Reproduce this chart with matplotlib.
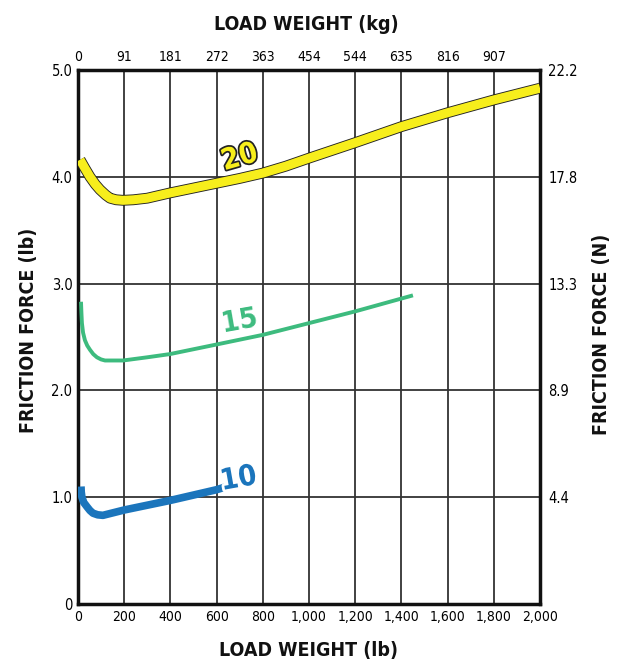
import numpy as np
import matplotlib.pyplot as plt
import matplotlib.patheffects as pe

# load weight (lb) and friction force (lb)
lb_20 = [9, 30, 52, 75, 95, 120, 139, 165, 195, 240, 300, 400, 500, 600, 700, 800, 900, 1000, 1200, 1400, 1600, 1800, 2000]
f_20 = [4.16, 4.08, 4.00, 3.93, 3.88, 3.83, 3.80, 3.785, 3.78, 3.785, 3.80, 3.85, 3.895, 3.94, 3.985, 4.035, 4.10, 4.175, 4.32, 4.47, 4.60, 4.72, 4.83]

lb_15 = [13, 15, 17, 22, 30, 40, 52, 66, 82, 100, 117, 150, 195, 300, 398, 600, 800, 1000, 1200, 1400, 1450]
f_15 = [2.83, 2.72, 2.63, 2.54, 2.47, 2.42, 2.38, 2.34, 2.31, 2.29, 2.28, 2.28, 2.28, 2.31, 2.34, 2.43, 2.52, 2.63, 2.74, 2.86, 2.89]

lb_10 = [13, 14, 17, 25, 39, 52, 65, 85, 108, 200, 400, 600, 645]
f_10 = [1.10, 1.05, 1.00, 0.95, 0.91, 0.875, 0.85, 0.835, 0.83, 0.88, 0.97, 1.07, 1.10]

x_ticks = [0, 200, 400, 600, 800, 1000, 1200, 1400, 1600, 1800, 2000]
x_labels = ["0", "200", "400", "600", "800", "1,000", "1,200", "1,400", "1,600", "1,800", "2,000"]
kg_ticks = [0, 200, 400, 600, 800, 1000, 1200, 1400, 1600, 1800]
kg_labels = ["0", "91", "181", "272", "363", "454", "544", "635", "816", "907"]
y_ticks = [0, 1, 2, 3, 4, 5]
y_labels = ["0", "1.0", "2.0", "3.0", "4.0", "5.0"]
n_ticks = [1, 2, 3, 4, 5]
n_labels = ["4.4", "8.9", "13.3", "17.8", "22.2"]

plt.rcParams["font.family"] = ["DejaVu Sans"]
plt.rcParams["font.stretch"] = "condensed"

fig = plt.figure(figsize=(6.17, 6.67), dpi=100)
ax = fig.add_axes([0.1264, 0.0945, 0.7488, 0.8005])
ax.set_xlim(0, 2000)
ax.set_ylim(0, 5)

ax.set_xticks(x_ticks)
ax.set_xticklabels(x_labels, fontsize=10)
ax.set_yticks(y_ticks)
ax.set_yticklabels(y_labels, fontsize=10.5)
ax.tick_params(length=0, pad=4)
ax.grid(True, color="#333333", lw=1.3)
ax.set_axisbelow(True)
for s in ax.spines.values():
    s.set_linewidth(2.5)
    s.set_color("#111111")

top = ax.twiny()
top.set_xlim(0, 2000)
top.set_xticks(kg_ticks)
top.set_xticklabels(kg_labels, fontsize=10)
top.tick_params(length=0, pad=4)

right = ax.twinx()
right.set_ylim(0, 5)
right.set_yticks(n_ticks)
right.set_yticklabels(n_labels, fontsize=10.5)
right.tick_params(length=0, pad=6)
for a in (top, right):
    for s in a.spines.values():
        s.set_visible(False)

# curves
ax.plot(lb_20, f_20, color="#F7EE1C", lw=6.5, solid_capstyle="butt", zorder=3,
        path_effects=[pe.Stroke(linewidth=7.8, foreground="#222222"), pe.Normal()])
ax.plot(lb_15, f_15, color="#3DBB7E", lw=2.8, solid_capstyle="butt", zorder=3)
ax.plot(lb_10, f_10, color="#1B75BC", lw=5.5, solid_capstyle="butt", zorder=3)

lab = dict(fontsize=21, fontweight="bold", ha="center", va="center", zorder=4)
ax.text(700, 4.18, "20", color="#F7EE1C", rotation=16,
        path_effects=[pe.withStroke(linewidth=2.5, foreground="#222222")], **lab)
ax.text(700, 2.65, "15", color="#3DBB7E", rotation=10, **lab)
ax.text(695, 1.17, "10", color="#1B75BC", rotation=10,
        path_effects=[pe.withStroke(linewidth=4, foreground="white")], **lab)

title_kw = dict(fontsize=14, fontweight="bold", color="#111111")
fig.text(0.497, 0.963, "LOAD WEIGHT (kg)", ha="center", va="center", **title_kw)
fig.text(0.5, 0.025, "LOAD WEIGHT (lb)", ha="center", va="center", **title_kw)
fig.text(0.047, 0.504, "FRICTION FORCE (lb)", ha="center", va="center", rotation=90, **title_kw)
fig.text(0.975, 0.498, "FRICTION FORCE (N)", ha="center", va="center", rotation=90, **title_kw)

fig.savefig("out.png", dpi=100)
